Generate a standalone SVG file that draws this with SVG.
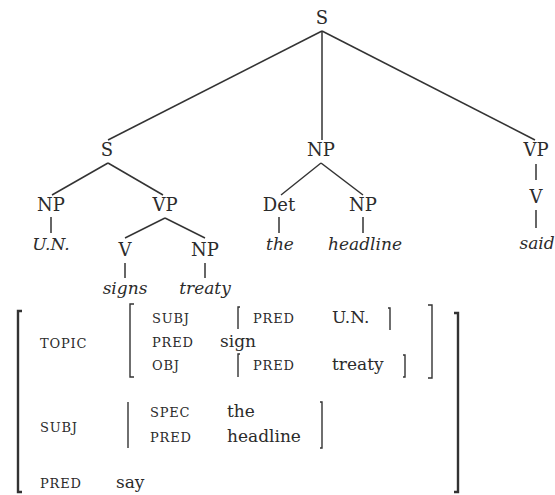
<svg xmlns="http://www.w3.org/2000/svg" width="555" height="495" viewBox="0 0 555 495">
<style>
.lab{font-family:"DejaVu Serif","Liberation Serif",serif;font-size:18px;fill:#2b2b2b;text-anchor:middle}
.leaf{font-family:"DejaVu Serif","Liberation Serif",serif;font-size:17px;font-style:italic;fill:#2b2b2b;text-anchor:middle}
.feat{font-family:"DejaVu Serif","Liberation Serif",serif;font-size:13px;letter-spacing:0.8px;fill:#2b2b2b}
.val{font-family:"DejaVu Serif","Liberation Serif",serif;font-size:17px;fill:#2b2b2b}
.edge{stroke:#333;stroke-width:1.5;fill:none}
.br{stroke:#333;stroke-width:1.4;fill:none}
.bbr{stroke:#333;stroke-width:2.4;fill:none}
</style>
<rect width="555" height="495" fill="#ffffff"/>
<g id="connectors">
<line class="edge" x1="322" y1="31" x2="108" y2="140"/>
<line class="edge" x1="322" y1="31" x2="322" y2="140"/>
<line class="edge" x1="322" y1="31" x2="535" y2="140"/>
<line class="edge" x1="108" y1="163" x2="52" y2="195"/>
<line class="edge" x1="108" y1="163" x2="163" y2="195"/>
<line class="edge" x1="321" y1="163" x2="281" y2="195"/>
<line class="edge" x1="321" y1="163" x2="363" y2="195"/>
<line class="edge" x1="536" y1="164" x2="536" y2="180"/>
<line class="edge" x1="536" y1="210" x2="536" y2="228"/>
<line class="edge" x1="51" y1="217" x2="51" y2="233"/>
<line class="edge" x1="279" y1="217" x2="279" y2="233"/>
<line class="edge" x1="363" y1="217" x2="363" y2="233"/>
<line class="edge" x1="165" y1="218" x2="125" y2="238"/>
<line class="edge" x1="165" y1="218" x2="205" y2="238"/>
<line class="edge" x1="125" y1="263" x2="125" y2="278"/>
<line class="edge" x1="205" y1="263" x2="205" y2="278"/>
</g>
<g id="n-S0"><text class="lab" x="322" y="24">S</text></g>
<g id="n-S1"><text class="lab" x="107" y="156">S</text></g>
<g id="n-NP1"><text class="lab" x="321" y="156">NP</text></g>
<g id="n-VP1"><text class="lab" x="536" y="156">VP</text></g>
<g id="n-NP2"><text class="lab" x="51" y="211">NP</text></g>
<g id="n-VP2"><text class="lab" x="165" y="211">VP</text></g>
<g id="n-Det"><text class="lab" x="279" y="211">Det</text></g>
<g id="n-NP3"><text class="lab" x="363" y="211">NP</text></g>
<g id="n-V1"><text class="lab" x="536" y="203">V</text></g>
<g id="n-UN"><text class="leaf" x="51" y="250">U.N.</text></g>
<g id="n-the"><text class="leaf" x="280" y="250">the</text></g>
<g id="n-headline"><text class="leaf" x="365" y="250">headline</text></g>
<g id="n-said"><text class="leaf" x="537" y="249">said</text></g>
<g id="n-V2"><text class="lab" x="125" y="256">V</text></g>
<g id="n-NP4"><text class="lab" x="205" y="256">NP</text></g>
<g id="n-signs"><text class="leaf" x="125" y="294">signs</text></g>
<g id="n-treaty"><text class="leaf" x="205" y="294">treaty</text></g>
<g id="fstructure">
<path class="bbr" d="M22 311 H18 V492 H22"/>
<path class="bbr" d="M454 313 H458 V492 H454"/>
<path class="br" d="M134 304 H130 V377 H134"/>
<path class="br" d="M428 305 H432 V378 H428"/>
<path class="br" d="M240 307 H238 V329"/>
<path class="br" d="M388 308 H390 V330"/>
<path class="br" d="M240 354 H238 V377"/>
<path class="br" d="M403 355 H405 V377 H403"/>
<path class="br" d="M128 402 V448"/>
<path class="br" d="M320 402 H322 V448 H320"/>
<text class="feat" x="40" y="348">TOPIC</text>
<text class="feat" x="152" y="323">SUBJ</text>
<text class="feat" x="253" y="323">PRED</text>
<text class="val" x="332" y="323">U.N.</text>
<text class="feat" x="152" y="347">PRED</text>
<text class="val" x="220" y="347">sign</text>
<text class="feat" x="152" y="370">OBJ</text>
<text class="feat" x="253" y="370">PRED</text>
<text class="val" x="332" y="370">treaty</text>
<text class="feat" x="40" y="432">SUBJ</text>
<text class="feat" x="150" y="417">SPEC</text>
<text class="val" x="227" y="417">the</text>
<text class="feat" x="150" y="442">PRED</text>
<text class="val" x="227" y="442">headline</text>
<text class="feat" x="40" y="488">PRED</text>
<text class="val" x="116" y="488">say</text>
</g>
</svg>
